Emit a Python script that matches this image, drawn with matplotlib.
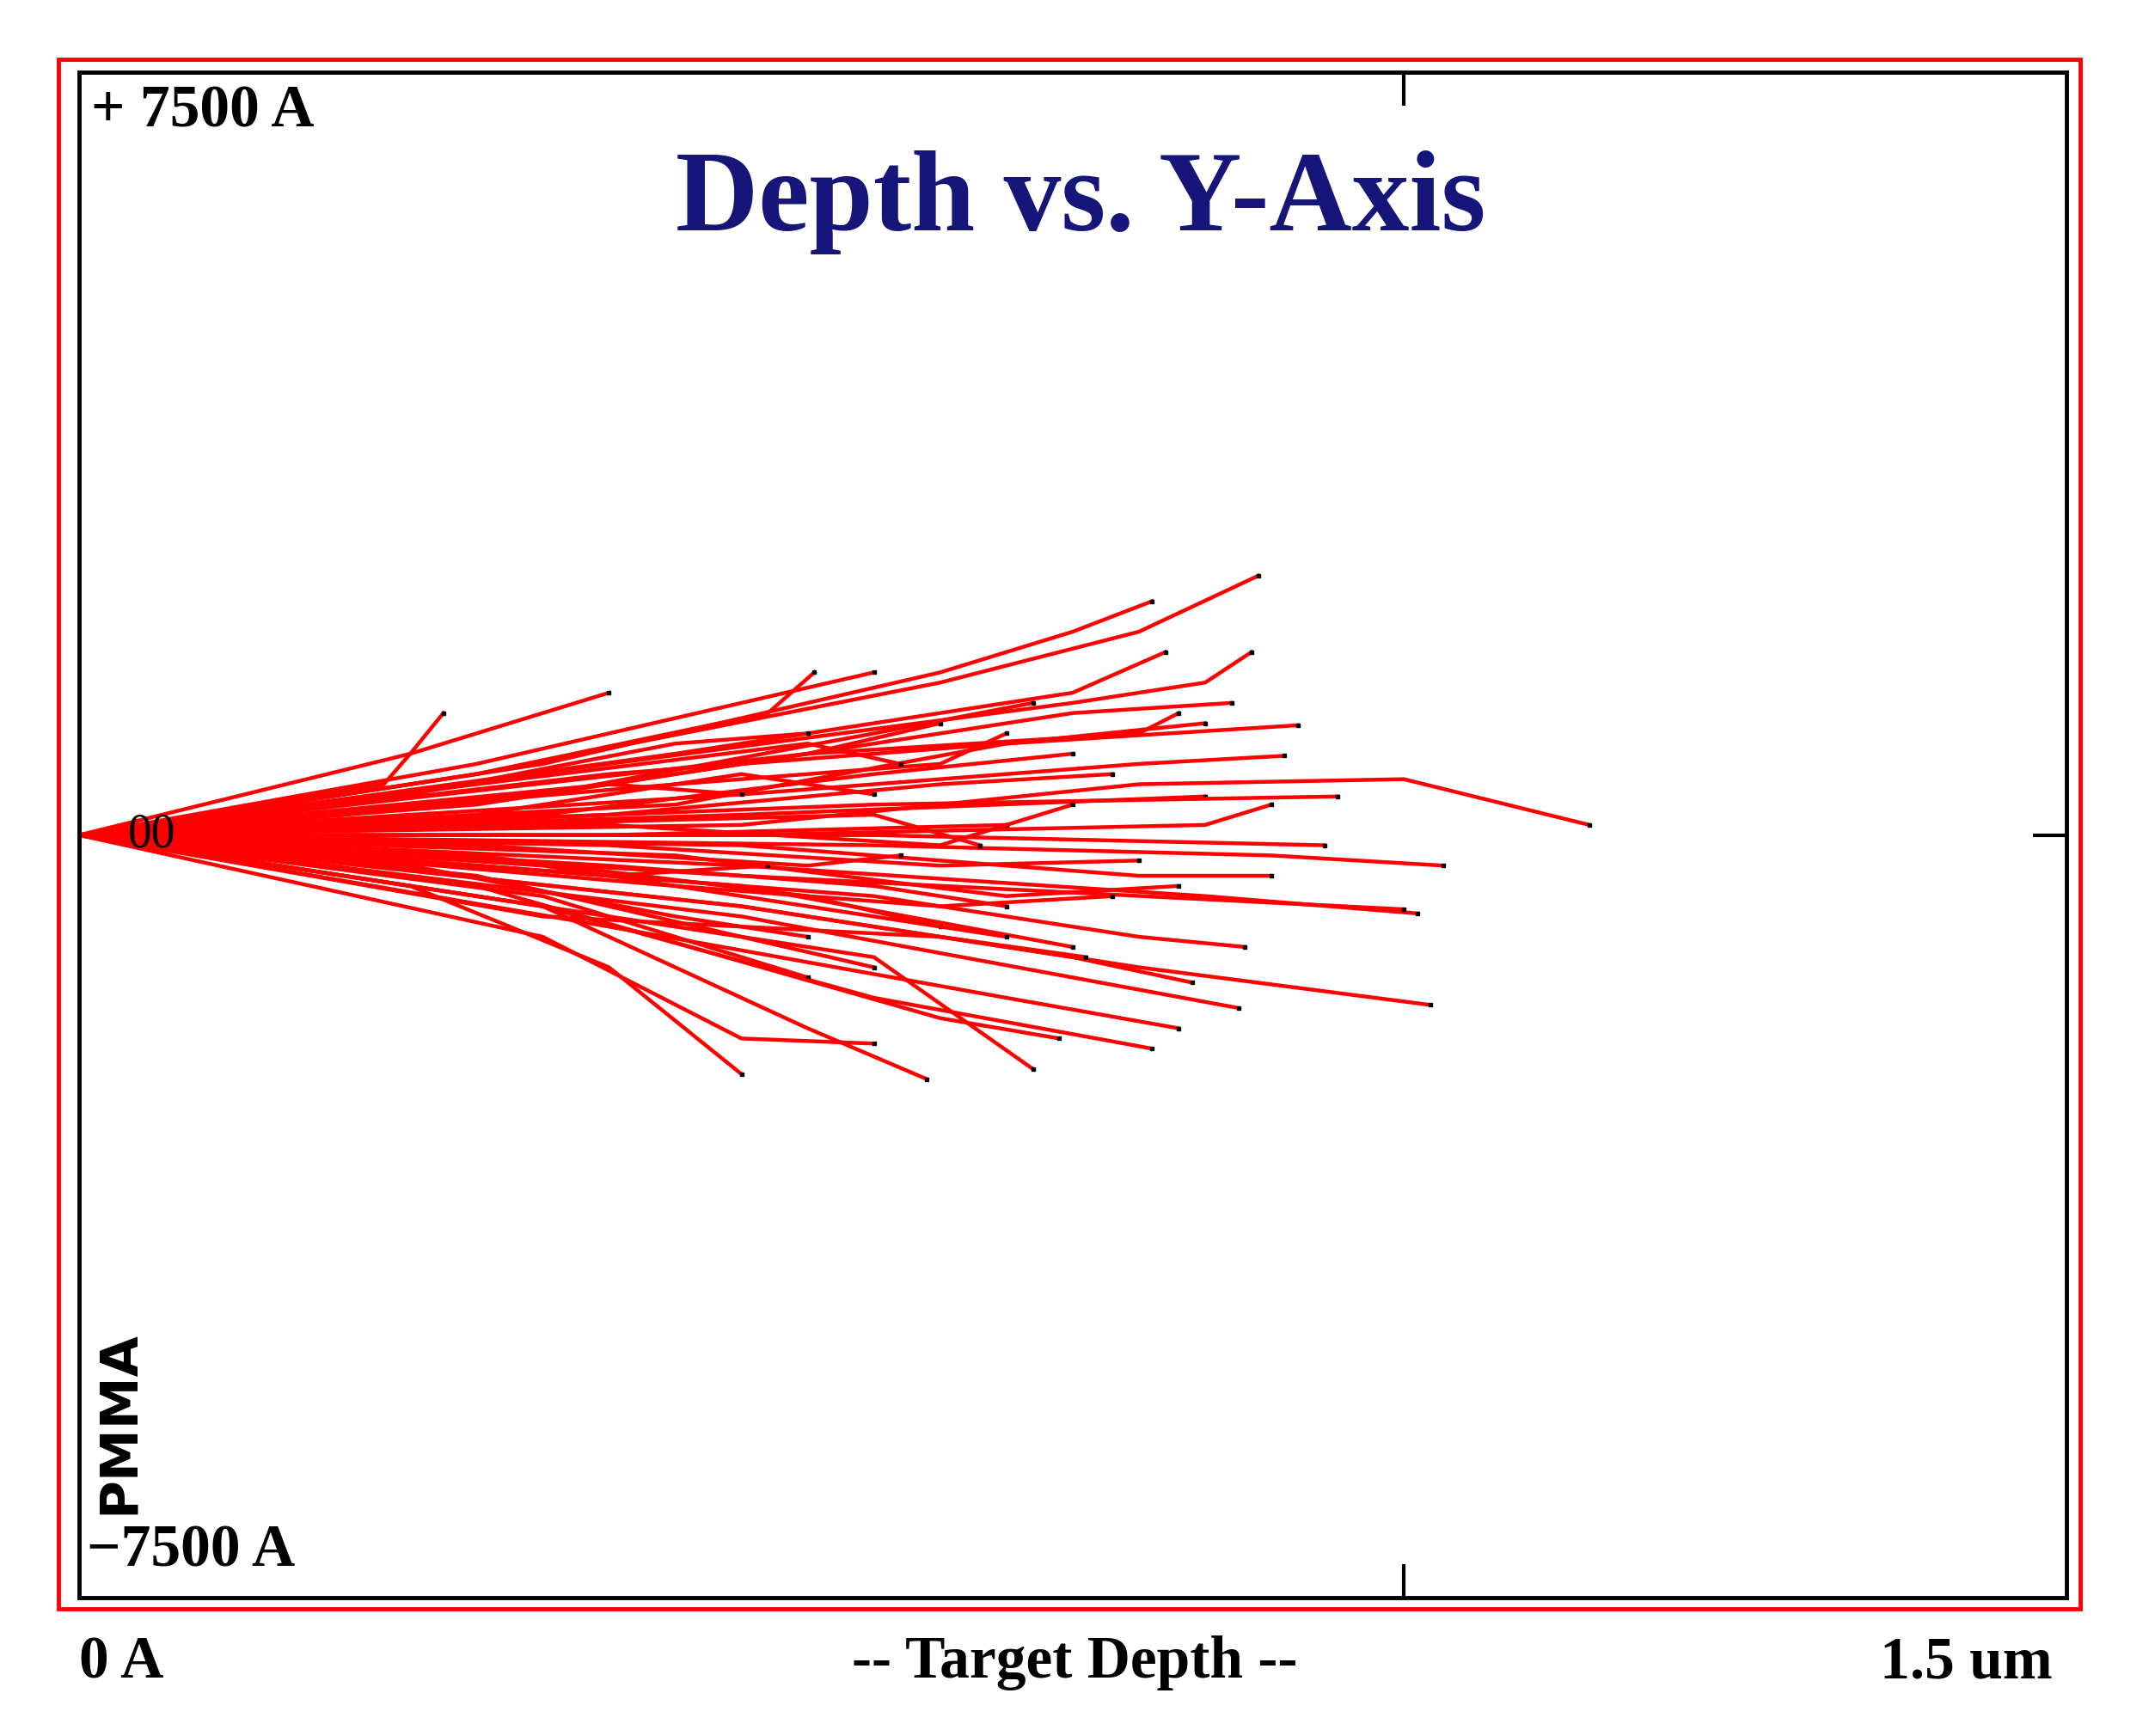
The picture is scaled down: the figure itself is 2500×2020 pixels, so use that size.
import matplotlib.pyplot as plt
from matplotlib.patches import Rectangle

# ion trajectories, depth (A) vs lateral Y (A)
trajectories = [
    [(0, 0), (3000, 600), (6500, 1500), (8000, 2000), (8900, 2550)],
    [(0, 0), (3500, 700), (6500, 1600), (7500, 2000), (8100, 2300)],
    [(0, 0), (4000, 700), (7500, 1300), (8500, 1500), (8850, 1800)],
    [(0, 0), (4500, 800), (7500, 1400), (8200, 1800)],
    [(0, 0), (3000, 700), (5000, 1300), (6000, 1600)],
    [(0, 0), (3000, 600), (5200, 1200), (5550, 1600)],
    [(0, 0), (2500, 800), (4000, 1400)],
    [(0, 0), (2300, 500), (2500, 800), (2750, 1200)],
    [(0, 0), (4000, 600), (7000, 900), (9200, 1080)],
    [(0, 0), (5000, 400), (8000, 700), (9100, 780)],
    [(0, 0), (5000, 100), (8000, 500), (10000, 550), (11400, 100)],
    [(0, 0), (6000, -100), (9000, -200), (10300, -300)],
    [(0, 0), (5000, -300), (8500, -600), (10100, -770)],
    [(0, 0), (5000, -700), (8000, -1300), (10200, -1670)],
    [(0, 0), (6000, 0), (9400, -100)],
    [(0, 0), (2500, -500), (4000, -1300), (5000, -2350)],
    [(0, 0), (4000, -800), (6000, -1200), (7200, -2300)],
    [(0, 0), (3500, -700), (6000, -1600), (8100, -2100)],
    [(0, 0), (4000, -900), (7000, -1600), (8300, -1900)],
    [(0, 0), (5000, -800), (7500, -1400), (8750, -1700)],
    [(0, 0), (5000, -700), (7500, -1200), (8400, -1450)],
    [(0, 0), (5000, -500), (7500, -1100)],
    [(0, 0), (3500, -600), (5500, -1400)],
    [(0, 0), (5000, 200), (8500, 380)],
    [(0, 0), (6000, 300), (9500, 380)],
    [(0, 0), (4000, 0), (7000, 100)],
    [(0, 0), (5000, -400), (10000, -730)],
    [(0, 0), (3500, -700), (5500, -1900), (6400, -2400)],
    [(0, 0), (3000, -500), (6500, -1800), (7400, -2000)],
    [(0, 0), (3500, -1000), (5000, -2000), (6000, -2050)],
    [(0, 0), (4500, 300), (7000, 900), (8500, 1100)],
    [(0, 0), (4000, 200), (6500, 500), (7800, 600)],
    [(0, 0), (4000, -100), (6500, -300), (8000, -250)],
    [(0, 0), (4500, -200), (7000, -600), (8300, -500)],
    [(0, 0), (3000, 100), (6000, 200), (6800, -100)],
    [(0, 0), (3000, -200), (5500, -600), (6500, -900)],
    [(0, 0), (3000, 300), (5500, 800), (6500, 1100)],
    [(0, 0), (2500, 400), (4500, 900), (5500, 1000)],
    [(0, 0), (2500, -300), (4500, -800), (5500, -1000)],
    [(0, 0), (3000, -400), (5000, -1000), (6000, -1300)],
    [(0, 0), (3500, 400), (6000, 1000), (7200, 1300)],
    [(0, 0), (4000, 500), (7500, 1200), (8700, 1300)],
    [(0, 0), (5000, 0), (8500, 100), (9000, 300)],
    [(0, 0), (5000, -100), (8000, -400), (9000, -400)],
    [(0, 0), (4000, -300), (6000, -500), (7000, -700)],
    [(0, 0), (2000, 200), (4000, 500), (5000, 400)],
    [(0, 0), (2000, -200), (4000, -400), (5200, -300)],
    [(0, 0), (3500, -800), (6500, -1000), (7600, -1200)],
    [(0, 0), (6000, -600), (8000, -1000), (8800, -1100)],
    [(0, 0), (3500, 200), (6000, 600), (7500, 800)],
    [(0, 0), (3000, -100), (5500, -300), (6200, -200)],
    [(0, 0), (4500, 500), (6500, 700), (7000, 1000)],
    [(0, 0), (3000, 500), (5500, 900), (6200, 700)],
    [(0, 0), (3500, -300), (6000, -800), (7000, -1000)],
    [(0, 0), (4000, 100), (6500, -100), (7500, 300)],
    [(0, 0), (2500, 100), (5000, 600), (6000, 400)],
    [(0, 0), (4500, -500), (6500, -700), (7800, -600)],
    [(0, 0), (5500, 800), (8000, 1000), (8300, 1200)],
]
depth_max = 15000
y_max = 7500

plt.rcParams["font.family"] = ["Liberation Serif", "DejaVu Serif"]
fig = plt.figure(figsize=(25, 20.2), dpi=100)
fig.patches.append(Rectangle((0.027, 0.0733), 0.941, 0.8925, transform=fig.transFigure,
                             fill=False, edgecolor="#ff0000", linewidth=3.5))
ax = fig.add_axes([0.0368, 0.0796, 0.9247, 0.8787])

for traj in trajectories:
    xs = [p[0] for p in traj]
    ys = [p[1] for p in traj]
    ax.plot(xs, ys, color="#ff0000", linewidth=3.2, solid_joinstyle="round")
    ax.plot(xs[-1], ys[-1], "s", color="black", markersize=3.5)
ax.plot([-200, 600], [0, 0], color="#ff0000", linewidth=3.5)

ax.set_xlim(0, depth_max)
ax.set_ylim(-y_max, y_max)
for s in ax.spines.values():
    s.set_linewidth(3.5)
ax.set_xticks([10000])
ax.set_yticks([0])
ax.tick_params(axis="x", direction="in", top=True, bottom=True, length=28, width=3,
               labelbottom=False)
ax.tick_params(axis="y", direction="in", left=False, right=True, length=28, width=3,
               labelleft=False)

ax.text(0.006, 0.992, "+ 7500 A", transform=ax.transAxes, fontsize=50, fontweight="bold",
        va="top", ha="left")
ax.text(0.004, 0.012, "\u22127500 A", transform=ax.transAxes, fontsize=50, fontweight="bold",
        va="bottom", ha="left")
ax.text(0.504, 0.915, "Depth vs. Y-Axis", transform=ax.transAxes, fontsize=96,
        fontweight="bold", color="#15157a", ha="center", va="center")
ax.text(0.02, 0.115, "PMMA", transform=ax.transAxes, fontsize=44, fontweight="bold",
        family="DejaVu Sans", rotation=90, ha="center", va="center")
ax.text(550, 0, "00", fontsize=40, va="center", ha="center", color="black")

fig.text(0.037, 0.042, "0 A", fontsize=50, fontweight="bold", ha="left", va="center")
fig.text(0.5, 0.042, "-- Target Depth --", fontsize=50, fontweight="bold",
         ha="center", va="center")
fig.text(0.955, 0.042, "1.5 um", fontsize=50, fontweight="bold", ha="right", va="center")

fig.savefig("out.png", dpi=100)
